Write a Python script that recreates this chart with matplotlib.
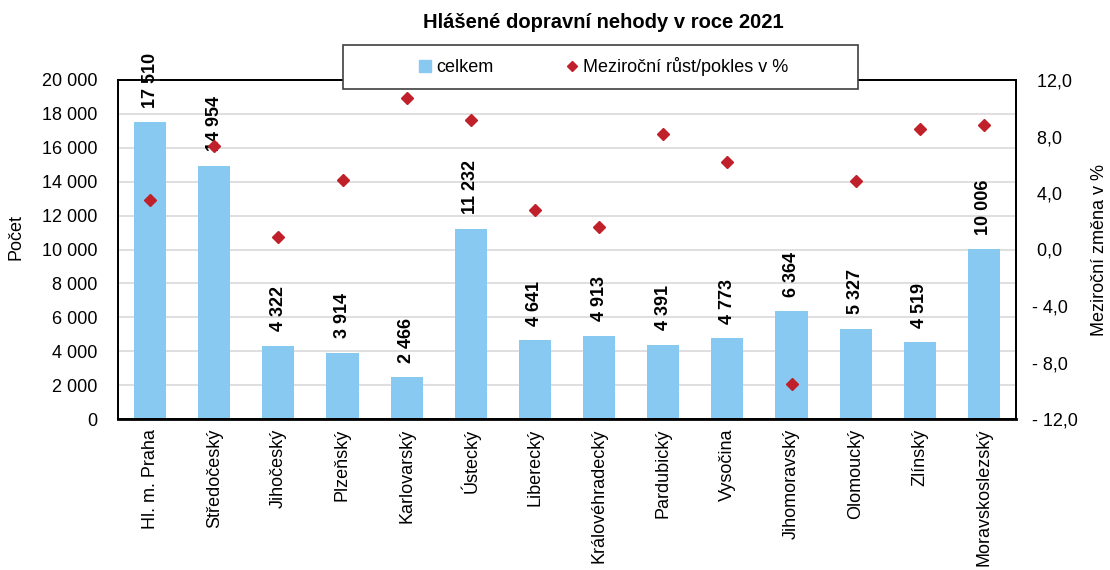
import matplotlib
matplotlib.use("Agg")
import matplotlib.pyplot as plt
from matplotlib.patches import Rectangle
from matplotlib.lines import Line2D
from matplotlib.ticker import FuncFormatter, MultipleLocator

plt.rcParams["font.family"] = ["Liberation Sans", "DejaVu Sans"]

regions = ["Hl. m. Praha", "Středočeský", "Jihočeský", "Plzeňský", "Karlovarský",
           "Ústecký", "Liberecký", "Královéhradecký", "Pardubický", "Vysočina",
           "Jihomoravský", "Olomoucký", "Zlínský", "Moravskoslezský"]
celkem = [17510, 14954, 4322, 3914, 2466, 11232, 4641, 4913, 4391, 4773,
          6364, 5327, 4519, 10006]
zmena = [3.5, 7.3, 0.9, 4.9, 10.7, 9.2, 2.8, 1.6, 8.2, 6.2, -9.5, 4.85, 8.5, 8.8]

BAR = "#87C9F0"
RED = "#C0202A"
FS = 13


def thousands(v, _pos=None):
    return f"{int(v):,}".replace(",", " ")


def pct(v, _pos=None):
    s = f"{abs(v):.1f}".replace(".", ",")
    return f"- {s}" if v < 0 else f" {s}"


fig = plt.figure(figsize=(11.1, 5.7), dpi=100)
ax = fig.add_axes([118 / 1110, 1 - 419 / 570, (1016 - 118) / 1110, (419 - 80) / 570])
x = list(range(len(regions)))

ax.bar(x, celkem, width=0.5, color=BAR, zorder=2)
ax.set_ylim(0, 20000)
ax.set_xlim(-0.5, len(regions) - 0.5)
ax.yaxis.set_major_locator(MultipleLocator(2000))
ax.yaxis.set_major_formatter(FuncFormatter(thousands))
ax.grid(axis="y", color="#D9D9D9", linewidth=1.2, zorder=0)
ax.set_axisbelow(True)
ax.set_xticks(x)
ax.set_xticklabels(regions, rotation=90, fontsize=FS)
ax.tick_params(axis="y", length=0, labelsize=FS, pad=15)
ax.tick_params(axis="x", length=0, labelsize=FS, pad=7)

for xi, v in zip(x, celkem):
    kw = {}
    if v > 16000:
        kw["bbox"] = dict(facecolor="white", edgecolor="none", pad=1)
    ax.annotate(thousands(v), (xi, v), xytext=(0, 10.5), textcoords="offset points",
                rotation=90, ha="center", va="bottom", fontsize=FS,
                fontweight="bold", annotation_clip=False, zorder=6, **kw)

ax2 = ax.twinx()
ax2.plot(x, zmena, linestyle="none", marker="D", markersize=6.5,
         color=RED, zorder=4)
ax2.set_ylim(-12, 12)
ax2.yaxis.set_major_locator(MultipleLocator(4))
ax2.yaxis.set_major_formatter(FuncFormatter(pct))
ax2.tick_params(axis="y", length=0, labelsize=FS, pad=11.5)

for a in (ax, ax2):
    for s in a.spines.values():
        s.set_color("black")
        s.set_linewidth(1.3)
ax.spines["bottom"].set_linewidth(2)

fig.text(16 / 1110, 1 - 237 / 570, "Počet", rotation=90,
         ha="center", va="center", fontsize=FS)
fig.text(1100 / 1110, 1 - 250 / 570, "Meziroční změna v %", rotation=90,
         ha="center", va="center", fontsize=FS)
fig.text(603 / 1110, 1 - 22 / 570, "Hlášené dopravní nehody v roce 2021",
         ha="center", va="center", fontsize=14.5, fontweight="bold")

# legend box overlapping the top of the plot
fig.patches.append(Rectangle((343 / 1110, 1 - 89 / 570), 515 / 1110, 44 / 570,
                             transform=fig.transFigure, facecolor="white",
                             edgecolor="#404040", linewidth=1.2, zorder=10))
handles = [Line2D([], [], linestyle="none", marker="s", markersize=9, color=BAR),
           Line2D([], [], linestyle="none", marker="D", markersize=5, color=RED)]
leg = fig.legend(handles, ["celkem", "Meziroční růst/pokles v %"],
                 loc="center", bbox_to_anchor=(602 / 1110, 1 - 67 / 570),
                 ncol=2, frameon=False, fontsize=FS, columnspacing=3.85,
                 handletextpad=0.1, handlelength=1.0)
leg.set_zorder(11)

fig.savefig("out.png", dpi=100)
